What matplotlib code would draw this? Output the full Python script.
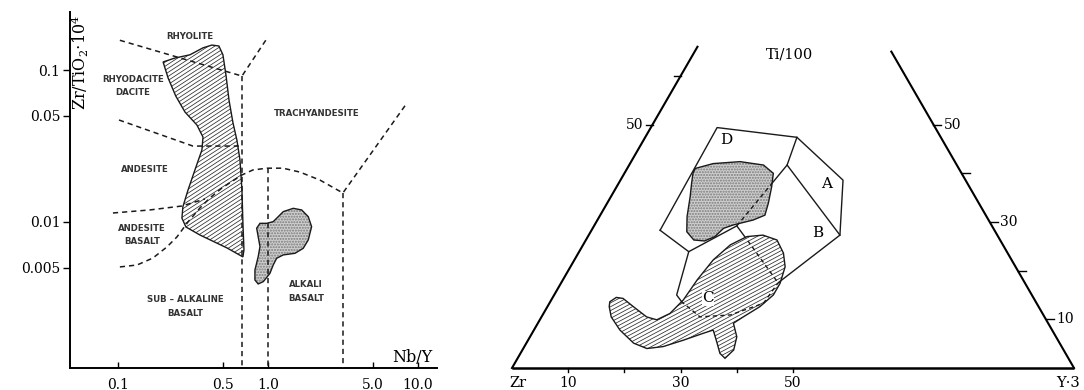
import numpy as np
import matplotlib
matplotlib.use("Agg")
import matplotlib.pyplot as plt
from matplotlib.patches import Polygon
from matplotlib.collections import LineCollection
from matplotlib.ticker import NullLocator

# ---------------------------------------------------------------------------
# Left panel: Zr/TiO2 vs Nb/Y classification (log-log)
# ---------------------------------------------------------------------------
x_ticks = [0.1, 0.5, 1.0, 5.0, 10.0]
x_tick_labels = ["0.1", "0.5", "1.0", "5.0", "10.0"]
y_ticks = [0.1, 0.05, 0.01, 0.005]
y_tick_labels = ["0.1", "0.05", "0.01", "0.005"]

# hatched field of the sub-alkaline suite
hatched_nby = [0.200, 0.240, 0.302, 0.369, 0.423, 0.471, 0.501, 0.525, 0.550, 0.585,
               0.621, 0.651, 0.671, 0.681, 0.692, 0.681, 0.533, 0.352, 0.284, 0.267,
               0.271, 0.293, 0.326, 0.363, 0.369, 0.336, 0.280, 0.243, 0.216]
hatched_zrti = [0.113, 0.120, 0.126, 0.140, 0.146, 0.144, 0.126, 0.0927, 0.0635, 0.0448,
                0.0346, 0.0256, 0.0162, 0.00985, 0.00655, 0.00589, 0.00675, 0.00821, 0.00927, 0.0106,
                0.0126, 0.0162, 0.0220, 0.0298, 0.0362, 0.0435, 0.0529, 0.0674, 0.0886]

# stippled field of the alkaline suite
stipple_nby = [1.265, 1.475, 1.678, 1.857, 1.955, 1.857, 1.719, 1.514, 1.265, 1.143,
               1.084, 1.031, 0.931, 0.861, 0.819, 0.819, 0.861, 0.885, 0.861, 0.841,
               0.885, 0.980, 1.084, 1.171]
stipple_zrti = [0.0117, 0.0123, 0.0120, 0.01084, 0.00931, 0.00762, 0.00671, 0.00622, 0.00607, 0.00577,
                0.00521, 0.00459, 0.00405, 0.00391, 0.00415, 0.00483, 0.00591, 0.00689, 0.00800, 0.00910,
                0.00980, 0.00980, 0.01005, 0.01084]

# field boundaries (dashed)
bnd_rhyolite = ([0.103, 0.671, 1.0], [0.157, 0.0913, 0.165])
bnd_dacite = ([0.1016, 0.316, 0.671], [0.0469, 0.0316, 0.0316])
bnd_andesite = ([0.0926, 0.163, 0.267, 0.380], [0.01146, 0.0120, 0.01274, 0.01417])
bnd_basalt = ([0.103, 0.134, 0.171, 0.212, 0.247, 0.293, 0.352, 0.410, 0.494, 0.671,
               0.794, 0.985, 1.259, 1.634, 2.22, 3.16, 8.45],
              [0.00506, 0.00521, 0.00579, 0.00685, 0.00796, 0.0100, 0.01236, 0.01439, 0.01675, 0.0204,
               0.0220, 0.0226, 0.0226, 0.0213, 0.01888, 0.01552, 0.0607])
bnd_v067 = ([0.671, 0.671], [0.0913, 0.00109])
bnd_v100 = ([1.0, 1.0], [0.0226, 0.00109])
bnd_v316 = ([3.16, 3.16], [0.01552, 0.00109])

field_names = ["RHYOLITE", "RHYODACITE\nDACITE", "TRACHYANDESITE", "ANDESITE",
               "ANDESITE\nBASALT", "SUB \u2013 ALKALINE\nBASALT", "ALKALI\nBASALT"]
field_nby = [0.302, 0.126, 2.12, 0.151, 0.1445, 0.28, 1.79]
field_zrti = [0.165, 0.0785, 0.0521, 0.0223, 0.0082, 0.00278, 0.00349]

# ---------------------------------------------------------------------------
# Right panel: Ti/100 - Zr - Y*3 ternary (percent Ti, percent Y*3; Zr = rest)
# ---------------------------------------------------------------------------
tern_outer = ([28.3, 49.4, 47.4, 38.6, 27.3, 17.5], [12.2, 11.8, 27.0, 39.6, 44.7, 38.6])
tern_ad = ([47.4, 41.7, 27.3], [27.0, 28.1, 44.7])
tern_db = ([41.7, 29.2, 25.6, 20.7, 17.5], [28.1, 25.4, 29.5, 35.0, 38.6])
tern_dbase = ([28.3, 23.9, 29.2], [12.2, 19.5, 25.4])
tern_c = ([23.9, 15.0, 13.6, 10.5, 10.9, 13.3, 16.7, 17.5], [19.5, 21.8, 23.4, 28.2, 33.4, 38.1, 38.5, 38.6])

stip_ti = [41.0, 42.0, 42.4, 41.7, 40.0, 37.2, 33.8, 31.4, 30.4, 29.4, 28.7, 27.0,
           26.1, 26.3, 28.0, 31.1, 35.2, 37.9, 40.0]
stip_y = [12.1, 14.8, 19.4, 23.9, 26.5, 27.6, 28.7, 29.3, 27.7, 24.7, 23.3, 22.6,
          21.2, 19.2, 17.1, 15.6, 14.1, 13.0, 12.2]

hat_ti = [13.6, 14.5, 14.3, 12.6, 10.5, 9.9, 11.2, 14.0, 18.1, 22.2, 25.3, 27.0, 27.3,
          26.3, 23.6, 20.8, 17.4, 15.0, 12.6, 10.5, 9.2, 6.4, 3.7, 2.0, 3.0, 5.7, 7.8,
          7.1, 5.7, 4.4, 4.0, 5.1, 7.8, 10.5, 12.6]
hat_y = [10.6, 11.3, 12.6, 15.3, 18.7, 20.8, 22.5, 23.5, 23.9, 24.7, 26.2, 28.3, 31.0,
         34.0, 36.5, 38.2, 39.0, 39.0, 37.8, 35.9, 34.8, 36.8, 37.6, 36.9, 35.5, 33.5, 31.9,
         30.4, 27.6, 24.7, 22.0, 19.1, 15.3, 12.4, 11.0]

tern_letters = ["A", "B", "C", "D"]
letter_ti = [37.9, 27.7, 14.3, 46.8]
letter_y = [37.0, 40.6, 27.7, 14.7]

left_ticks_ti = [50, 60]
left_labels = {50: "50"}
right_ticks_ti = [10, 20, 30, 40, 50]
right_labels = {10: "10", 30: "30", 50: "50"}
base_ticks_y = [10, 20, 30, 40, 50]
base_labels = {10: "10", 30: "30", 50: "50"}

# ---------------------------------------------------------------------------
W, H = 1084, 390
plt.rcParams["mathtext.fontset"] = "dejavuserif"
fig = plt.figure(figsize=(W / 100, H / 100), dpi=100)
SERIF = "DejaVu Serif"
SANS = "DejaVu Sans"
DASH = (0, (3.4, 2.6))


def px_rect(x0, y0, x1, y1):
    return [x0 / W, 1 - y1 / H, (x1 - x0) / W, (y1 - y0) / H]


def hatch_lines(ax, patch, spacing=3.4, angle=31, lw=0.55, color="#2b2b2b"):
    bb = ax.get_position()
    wp, hp = bb.width * W, bb.height * H
    a = np.deg2rad(angle)
    d = np.array([np.cos(a), np.sin(a)])
    n = np.array([-np.sin(a), np.cos(a)])
    corners = np.array([[0, 0], [wp, 0], [0, hp], [wp, hp]])
    proj = corners @ n
    L = wp + hp
    segs = []
    for c in np.arange(proj.min(), proj.max(), spacing):
        p0 = c * n - L * d
        p1 = c * n + L * d
        segs.append([(p0[0] / wp, p0[1] / hp), (p1[0] / wp, p1[1] / hp)])
    lc = LineCollection(segs, colors=color, linewidths=lw, transform=ax.transAxes,
                        zorder=patch.get_zorder() + 0.1)
    lc.set_clip_path(patch)
    ax.add_collection(lc, autolim=False)


# ---------------- left panel ----------------
ax1 = fig.add_axes(px_rect(70, 12, 437, 368))
ax1.set_xscale("log")
ax1.set_yscale("log")
ax1.set_xlim(0.0479, 13.4)
ax1.set_ylim(0.001094, 0.241)
for s in ("top", "right"):
    ax1.spines[s].set_visible(False)
for s in ("left", "bottom"):
    ax1.spines[s].set_linewidth(1.4)
ax1.xaxis.set_minor_locator(NullLocator())
ax1.yaxis.set_minor_locator(NullLocator())
ax1.set_xticks(x_ticks, x_tick_labels, fontfamily=SERIF, fontsize=10)
ax1.set_yticks(y_ticks, y_tick_labels, fontfamily=SERIF, fontsize=10)
ax1.tick_params(axis="x", direction="in", length=4, width=1.0, pad=7)
ax1.tick_params(axis="y", direction="out", length=5, width=1.0, pad=2)

hp = Polygon(np.column_stack([hatched_nby, hatched_zrti]), closed=True,
             facecolor="white", edgecolor="none", zorder=2)
ax1.add_patch(hp)
hatch_lines(ax1, hp, angle=33)
ax1.add_patch(Polygon(np.column_stack([hatched_nby, hatched_zrti]), closed=True,
                      fill=False, edgecolor="#1a1a1a", lw=1.0, zorder=3))

sp = Polygon(np.column_stack([stipple_nby, stipple_zrti]), closed=True,
             facecolor="#cfcfcf", edgecolor="#7a7a7a", lw=0, hatch="......", zorder=2)
ax1.add_patch(sp)
ax1.add_patch(Polygon(np.column_stack([stipple_nby, stipple_zrti]), closed=True,
                      fill=False, edgecolor="#1a1a1a", lw=1.0, zorder=3))

for bx, by in (bnd_rhyolite, bnd_dacite, bnd_andesite, bnd_basalt,
               bnd_v067, bnd_v100, bnd_v316):
    ax1.plot(bx, by, color="#1a1a1a", lw=1.1, linestyle=DASH, zorder=5)

for name, fx, fy in zip(field_names, field_nby, field_zrti):
    ax1.text(fx, fy, name, fontsize=6.2, fontfamily=SANS, fontweight="bold",
             color="#333333", ha="center", va="center", linespacing=1.6, zorder=6)

ax1.text((80 - 70) / 367, 1 - (62 - 12) / 356, r"Zr/TiO$_2$$\cdot$10$^4$",
         transform=ax1.transAxes, rotation=90, ha="center", va="center",
         fontfamily=SERIF, fontsize=11.5)
ax1.text((412 - 70) / 367, (368 - 357) / 356, "Nb/Y", transform=ax1.transAxes,
         ha="center", va="center", fontfamily=SERIF, fontsize=11.5)

# ---------------- right panel ----------------
ax2 = fig.add_axes(px_rect(480, 0, 1084, 390))
ax2.set_xlim(-32 / 562, 572 / 562)
ax2.set_ylim(-22 / 562, 368 / 562)
ax2.axis("off")
R3 = np.sqrt(3) / 2


def tern(ti, y):
    ti = np.asarray(ti, dtype=float) / 100
    y = np.asarray(y, dtype=float) / 100
    return y + ti / 2, ti * R3


# triangle frame
bx0, by0 = tern([0, 0], [0, 100])
ax2.plot(bx0, by0, color="black", lw=1.8, solid_capstyle="butt", zorder=6)
lx, ly = tern([0, 66], [0, 0])
ax2.plot(lx, ly, color="black", lw=1.5, zorder=6)
rx, ry = tern([0, 65], [100, 35])
ax2.plot(rx, ry, color="black", lw=1.5, zorder=6)

for t in left_ticks_ti:
    x, y = tern(t, 0)
    ax2.plot([x - 7 / 562, x], [y, y], color="black", lw=1.0, zorder=6)
    if t in left_labels:
        ax2.text(x - 9 / 562, y, left_labels[t], ha="right", va="center",
                 fontfamily=SERIF, fontsize=10)
for t in right_ticks_ti:
    x, y = tern(t, 100 - t)
    ax2.plot([x, x + 8 / 562], [y, y], color="black", lw=1.0, zorder=6)
    if t in right_labels:
        ax2.text(x + 10 / 562, y, right_labels[t], ha="left", va="center",
                 fontfamily=SERIF, fontsize=10)
for v in base_ticks_y:
    x, y = tern(0, v)
    ax2.plot([x, x], [y, y - 4 / 562], color="black", lw=1.0, zorder=6)
    if v in base_labels:
        ax2.text(x, y - 15 / 562, base_labels[v], ha="center", va="center",
                 fontfamily=SERIF, fontsize=10)

ax2.text(6 / 562, -15 / 562, "Zr", ha="center", va="center", fontfamily=SERIF, fontsize=10.5)
ax2.text(556 / 562, -15 / 562, "Y\u00b73", ha="center", va="center", fontfamily=SERIF, fontsize=10.5)
ax2.text(278 / 562, 313 / 562, "Ti/100", ha="center", va="center", fontfamily=SERIF, fontsize=10.5)

# field boundaries, solid underneath
tern_lines = [tern_outer, tern_ad, tern_db, tern_dbase, tern_c]
for ti, yy in tern_lines:
    x, y = tern(ti, yy)
    ax2.plot(x, y, color="#1a1a1a", lw=1.0, zorder=1)

# sample fields
cx, cy = tern(hat_ti, hat_y)
cpoly = Polygon(np.column_stack([cx, cy]), closed=True, facecolor="white",
                edgecolor="none", zorder=2)
ax2.add_patch(cpoly)
hatch_lines(ax2, cpoly, angle=28)
ax2.add_patch(Polygon(np.column_stack([cx, cy]), closed=True, fill=False,
                      edgecolor="#1a1a1a", lw=1.0, zorder=4))

qx, qy = tern(stip_ti, stip_y)
qpoly = Polygon(np.column_stack([qx, qy]), closed=True, facecolor="#cfcfcf",
                edgecolor="#7a7a7a", lw=0, hatch="......", zorder=2)
ax2.add_patch(qpoly)
ax2.add_patch(Polygon(np.column_stack([qx, qy]), closed=True, fill=False,
                      edgecolor="#1a1a1a", lw=1.0, zorder=4))

# boundaries continue dashed across the sample fields
for ti, yy in tern_lines:
    x, y = tern(ti, yy)
    for clip in (cpoly, qpoly):
        ln, = ax2.plot(x, y, color="#1a1a1a", lw=1.0, linestyle=(0, (3.0, 2.4)), zorder=3)
        ln.set_clip_path(clip)

for lab, t, v in zip(tern_letters, letter_ti, letter_y):
    x, y = tern(t, v)
    ax2.text(x, y, lab, ha="center", va="center", fontfamily=SERIF, fontsize=11,
             zorder=5, bbox=dict(facecolor="white", edgecolor="none", pad=0.3)
             if lab == "C" else None)

fig.savefig("out.png", dpi=100, facecolor="white")
